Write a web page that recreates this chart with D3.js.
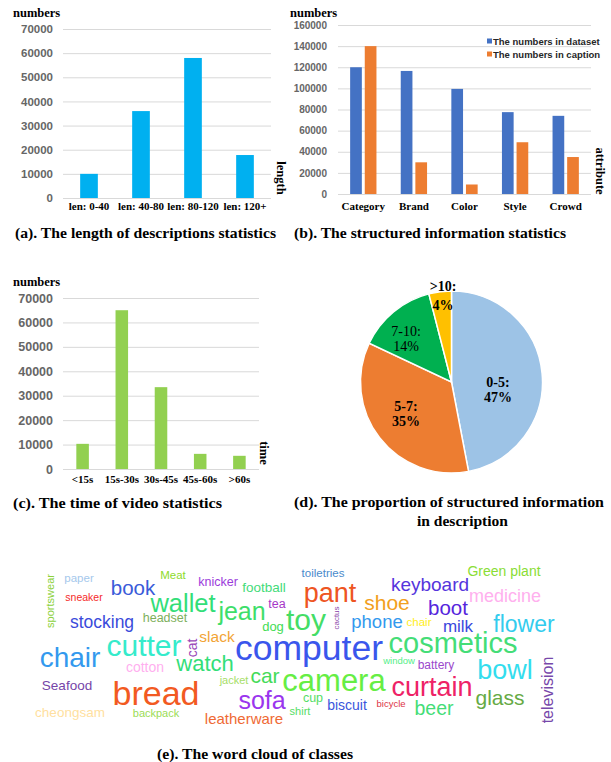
<!DOCTYPE html>
<html>
<head>
<meta charset="utf-8">
<script src="https://cdn.jsdelivr.net/npm/d3@7"></script>
<style>
    html, body { margin: 0; padding: 0; background: #fff; }
    svg { display: block; }
</style>
</head>
<body>
<svg id="chart"></svg>
<script>
// (a) length of descriptions
const lengthCategories = ["len: 0-40", "len: 40-80", "len: 80-120", "len: 120+"];
const lengthValues = [10000, 36000, 58000, 17800];
const lengthTicks = [0, 10000, 20000, 30000, 40000, 50000, 60000, 70000];

// (b) structured information
const attrCategories = ["Category", "Brand", "Color", "Style", "Crowd"];
const attrSeries = ["The numbers in dataset", "The numbers in caption"];
const attrDataset = [120000, 116500, 99500, 77500, 74000];
const attrCaption = [140000, 30000, 9000, 49000, 35000];
const attrTicks = [0, 20000, 40000, 60000, 80000, 100000, 120000, 140000, 160000];

// (c) video time
const timeCategories = ["<15s", "15s-30s", "30s-45s", "45s-60s", ">60s"];
const timeValues = [10300, 65000, 33500, 6200, 5400];
const timeTicks = [0, 10000, 20000, 30000, 40000, 50000, 60000, 70000];

// (d) proportion pie
const pieCategories = ["0-5", "5-7", "7-10", ">10"];
const pieValues = [47, 35, 14, 4];

// (e) word cloud
const cloudWords = ["sportswear", "paper", "sneaker", "book", "Meat", "knicker", "football", "wallet", "jean", "tea",
    "stocking", "headset", "dog", "toy", "cutter", "cat", "slack", "chair", "cotton", "watch",
    "computer", "car", "jacket", "Seafood", "bread", "sofa", "camera", "cheongsam", "backpack", "leatherware",
    "cup", "shirt", "biscuit", "bicycle", "toiletries", "pant", "cactus", "shoe", "keyboard", "Green plant",
    "medicine", "boot", "phone", "chair", "milk", "flower", "cosmetics", "window", "battery", "bowl",
    "curtain", "glass", "beer", "television"];
const cloudWeights = [11, 11.5, 10.5, 20.5, 11.5, 12.5, 13.5, 25.5, 25, 12.5,
    17.5, 12.5, 13, 30, 30, 14, 15.5, 28, 14, 22,
    35.5, 21, 11, 13.5, 34, 25, 31, 13.5, 11, 15,
    12.5, 11, 14, 9.5, 11.5, 27, 8, 21, 19, 14,
    18, 20.5, 18.5, 11.5, 17, 23, 29, 9.5, 12, 27,
    27, 21, 19.5, 16];

const captions = [
    "(a). The length of descriptions statistics",
    "(b). The structured information statistics",
    "(c). The time of video statistics",
    "(d). The proportion of structured information",
    "in description",
    "(e). The word cloud of classes"
];

// styles / layout
const serif = "'Liberation Serif', 'Times New Roman', serif";
const sans = "'Liberation Sans', Arial, sans-serif";
const gridColor = "#D9D9D9";
const tickColor = "#666";
const seriesColors = ["#4472C4", "#ED7D31"];
const pieColors = ["#9DC3E6", "#ED7D31", "#00B050", "#FFC000"];
const wordColors = ["#8CD13C", "#A5C8EC", "#F52A2A", "#3A5BD9", "#8EDB2A", "#9B3BDB", "#44DB7A", "#33DE78", "#3EDE6A", "#A637C8",
    "#3A4BDB", "#7DAF5B", "#44DC55", "#44DD66", "#35EBCB", "#9A48B8", "#F2A435", "#3399EE", "#FFAFEF", "#33DE78",
    "#3A56EC", "#44DB58", "#A6DE68", "#7545A8", "#F25A22", "#9A35EE", "#66EE44", "#FFDFA0", "#9BDC55", "#EF6A35",
    "#55DD66", "#55DD66", "#3A56DC", "#DD3344", "#4A8ACC", "#EE5522", "#8A46AA", "#F2A020", "#5535DD", "#8ADD35",
    "#FFB0EE", "#5525DD", "#3399EE", "#FFEE22", "#3A48DD", "#33CCEE", "#44DD77", "#55EE88", "#9A48CC", "#33DDEE",
    "#EE2266", "#66AA44", "#44DD77", "#7748AA"];
// [x, y, rotation] in cloud units
const wordLayout = [[20, 36, -90], [49, 13, 0], [54, 32, 0], [103, 22, 0], [143, 10, 0], [188, 17, 0], [234, 22, 0], [153, 38, 0], [212, 46, 0], [247, 39, 0],
    [72, 57, 0], [135, 53, 0], [243, 61, 0], [276, 54, 0], [114, 80, 0], [162, 83, -90], [187, 71, 0], [40, 92, 0], [115, 102, 0], [175, 98, 0],
    [279, 83, 0], [235, 110, 0], [204, 115, 0], [37, 120, 0], [126, 128, 0], [232, 135, 0], [304, 115, 0], [40, 147, 0], [126, 148, 0], [214, 153, 0],
    [283, 133, 0], [270, 146, 0], [317, 140, 0], [361, 138, 0], [293, 8, 0], [300, 28, 0], [306, 53, -90], [357, 37, 0], [400, 19, 0], [474, 6, 0],
    [475, 31, 0], [418, 42, 0], [347, 56, 0], [389, 57, 0], [428, 61, 0], [494, 59, 0], [423, 78, 0], [369, 95, 0], [406, 100, 0], [475, 105, 0],
    [402, 122, 0], [470, 132, 0], [404, 143, 0], [517, 125, -90]];
// [radius, angle nudge in degrees]
const pieLabelLayout = [[47, 14], [55.6, 2.7], [62.6, -7], [87.4, 1.6]];

const svg = d3.select("#chart")
    .attr("width", 611)
    .attr("height", 762);

svg.append("rect").attr("width", 611).attr("height", 762).attr("fill", "#fff");

function styleLeftAxis(g, size) {
    g.select(".domain").remove();
    g.selectAll("line").attr("stroke", gridColor);
    g.selectAll("text")
        .attr("fill", tickColor)
        .attr("font-family", sans)
        .attr("font-weight", "bold")
        .attr("font-size", size);
}

function styleBottomAxis(g) {
    g.select(".domain").remove();
    g.selectAll("text")
        .attr("fill", "#000")
        .attr("font-family", serif)
        .attr("font-weight", "bold")
        .attr("font-size", 11);
}

function axisTitle(x, y, text, rotate) {
    svg.append("text")
        .attr("transform", `translate(${x},${y}) rotate(${rotate})`)
        .attr("text-anchor", rotate ? "middle" : "start")
        .attr("dominant-baseline", "central")
        .attr("font-family", serif)
        .attr("font-weight", "bold")
        .attr("font-size", 12.5)
        .text(text);
}

function columnChart(categories, values, ticks, xRange, yRange, pad, color, tickSize, labelPad) {
    const x = d3.scaleBand().domain(categories).range(xRange).paddingInner(pad).paddingOuter(pad / 2);
    const y = d3.scaleLinear().domain([0, d3.max(ticks)]).range(yRange);

    svg.append("g")
        .attr("transform", `translate(${xRange[0]},0)`)
        .call(d3.axisLeft(y).tickValues(ticks).tickSize(-(xRange[1] - xRange[0])).tickPadding(10).tickFormat(d3.format("d")))
        .call(g => styleLeftAxis(g, tickSize));

    svg.append("g")
        .attr("transform", `translate(0,${yRange[0]})`)
        .call(d3.axisBottom(x).tickSize(0).tickPadding(labelPad))
        .call(styleBottomAxis);

    svg.append("g").selectAll("rect")
        .data(values)
        .enter()
        .append("rect")
        .attr("x", (d, i) => x(categories[i]))
        .attr("width", x.bandwidth())
        .attr("y", d => y(d))
        .attr("height", d => y(0) - y(d))
        .attr("fill", color);
}

// (a)
columnChart(lengthCategories, lengthValues, lengthTicks, [63, 271], [198, 29], 0.66, "#00B0F0", 11.5, 4);
axisTitle(13, 13, "numbers", 0);
axisTitle(281, 178, "length", 90);

// (b)
const x0 = d3.scaleBand().domain(attrCategories).range([338, 591]).paddingInner(0.48).paddingOuter(0.24);
const x1 = d3.scaleBand().domain([0, 1]).range([0, x0.bandwidth()]).paddingInner(0.2);
const yB = d3.scaleLinear().domain([0, d3.max(attrTicks)]).range([194, 25]);

svg.append("g")
    .attr("transform", "translate(338,0)")
    .call(d3.axisLeft(yB).tickValues(attrTicks).tickSize(-253).tickPadding(11).tickFormat(d3.format("d")))
    .call(g => styleLeftAxis(g, 10));

svg.append("g")
    .attr("transform", "translate(0,194)")
    .call(d3.axisBottom(x0).tickSize(0).tickPadding(8))
    .call(styleBottomAxis);

const attrRows = attrCategories.map((c, i) => ({ cat: c, vals: [attrDataset[i], attrCaption[i]] }));
svg.append("g").selectAll("g")
    .data(attrRows)
    .enter()
    .append("g")
    .attr("transform", d => `translate(${x0(d.cat)},0)`)
    .selectAll("rect")
    .data(d => d.vals)
    .enter()
    .append("rect")
    .attr("x", (d, i) => x1(i))
    .attr("width", x1.bandwidth())
    .attr("y", d => yB(d))
    .attr("height", d => yB(0) - yB(d))
    .attr("fill", (d, i) => seriesColors[i]);

const legend = svg.append("g").selectAll("g")
    .data(attrSeries)
    .enter()
    .append("g")
    .attr("transform", (d, i) => `translate(487,${41 + i * 13})`);
legend.append("rect").attr("x", 0).attr("y", -2.5).attr("width", 5).attr("height", 5).attr("fill", (d, i) => seriesColors[i]);
legend.append("text")
    .attr("x", 6)
    .attr("dominant-baseline", "central")
    .attr("font-family", sans)
    .attr("font-weight", "bold")
    .attr("font-size", 9.5)
    .attr("fill", "#262626")
    .text(d => d);

axisTitle(290, 13, "numbers", 0);
axisTitle(600, 171, "attribute", 90);

// (c)
columnChart(timeCategories, timeValues, timeTicks, [63, 259], [469, 298], 0.68, "#92D050", 12.5, 6);
axisTitle(13, 282, "numbers", 0);
axisTitle(264, 453, "time", 90);

// (d)
const pieData = d3.pie().sort(null).value(d => d)(pieValues);
const arc = d3.arc().innerRadius(0).outerRadius(91);
const pieG = svg.append("g").attr("transform", "translate(451.5,382)");

pieG.selectAll("path")
    .data(pieData)
    .enter()
    .append("path")
    .attr("d", arc)
    .attr("fill", (d, i) => pieColors[i])
    .attr("stroke", "#fff")
    .attr("stroke-width", 1.5);

const pieLabels = pieG.selectAll("g.label")
    .data(pieData)
    .enter()
    .append("g")
    .attr("class", "label")
    .attr("transform", (d, i) => {
        const a = (d.startAngle + d.endAngle) / 2 + pieLabelLayout[i][1] * Math.PI / 180;
        const r = pieLabelLayout[i][0];
        return `translate(${r * Math.sin(a)},${-r * Math.cos(a)})`;
    });

pieLabels.each(function (d, i) {
    const gap = i === 3 ? 9.5 : 7.5;
    const t = d3.select(this).append("text")
        .attr("text-anchor", "middle")
        .attr("font-family", serif)
        .attr("font-weight", i === 2 ? "normal" : "bold")
        .attr("font-size", 14)
        .attr("dominant-baseline", "central");
    t.append("tspan").attr("x", 0).attr("y", -gap).text(pieCategories[i] + ":");
    t.append("tspan").attr("x", 0).attr("y", gap).text(d.data + "%");
});

// (e)
const cloudX = d3.scaleLinear().domain([0, 530]).range([30, 560]);
const cloudY = d3.scaleLinear().domain([0, 170]).range([565, 735]);
const fontScale = d3.scaleLinear().domain([0, d3.max(cloudWeights)]).range([0, 35.5]);

svg.append("g").selectAll("text")
    .data(cloudWords)
    .enter()
    .append("text")
    .attr("transform", (d, i) => `translate(${cloudX(wordLayout[i][0])},${cloudY(wordLayout[i][1])}) rotate(${wordLayout[i][2]})`)
    .attr("text-anchor", "middle")
    .attr("dominant-baseline", "central")
    .attr("font-family", sans)
    .attr("font-size", (d, i) => fontScale(cloudWeights[i]))
    .attr("fill", (d, i) => wordColors[i])
    .text(d => d);

// captions
const captionPos = [[15, 238, 261], [294, 238, 272], [13, 508, 209], [294, 507, 310], [417, 526, 91], [157, 759, 196]];
svg.append("g").selectAll("text")
    .data(captions)
    .enter()
    .append("text")
    .attr("x", (d, i) => captionPos[i][0])
    .attr("y", (d, i) => captionPos[i][1])
    .attr("textLength", (d, i) => captionPos[i][2])
    .attr("lengthAdjust", "spacingAndGlyphs")
    .attr("font-family", serif)
    .attr("font-weight", "bold")
    .attr("font-size", 15)
    .text(d => d);
</script>
</body>
</html>
